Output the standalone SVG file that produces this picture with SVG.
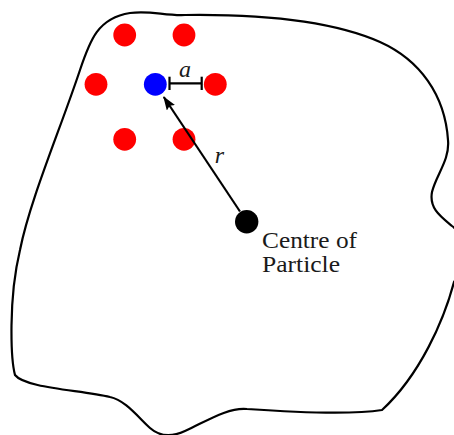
<svg xmlns="http://www.w3.org/2000/svg" width="454" height="435" viewBox="0 0 454 435">
  <style>
    .outline { fill: none; stroke: #000; stroke-width: 2.2; stroke-linejoin: round; }
    .red { fill: #ff0000; }
    .blue { fill: #0000ff; }
    .blk { fill: #000; }
    .conn { fill: none; stroke: #000; stroke-width: 2.2; }
    .lbl { font-family: "Liberation Serif", "Times New Roman", serif; font-size: 23.4px; fill: #1a1a1a; }
    .math { font-family: "Liberation Serif", "Times New Roman", serif; font-size: 24px; font-style: italic; fill: #1a1a1a; }
  </style>
  <defs>
    <marker id="arrow" markerUnits="userSpaceOnUse" viewBox="0 0 14 10" refX="13" refY="5" markerWidth="14" markerHeight="10" orient="auto">
      <path d="M0,0 L14,5 L0,10 L2.5,5 z" fill="#000"/>
    </marker>
  </defs>
  <rect width="454" height="435" fill="#fff"/>
  <g id="particle-outline">
    <path class="outline" d="M80,70 C90,40 98,18 130,13 C150,10 165,16 185,15 C260,14 330,20 380,42 C420,60 445,95 448,140 C450,160 436,175 432,192 C429,208 440,216 452,226 C470,240 468,262 454,282 C444,320 420,375 382,410 C350,415 290,412 247,409 C228,407 205,422 185,431 C172,437 160,437 150,428 C138,417 125,400 110,397 C80,390 25,388 15,375 C11,360 8,300 20,250 C30,200 60,130 80,70 Z"/>
  </g>
  <g id="neighbours">
    <circle class="red" cx="124.7" cy="35" r="11.4"/>
    <circle class="red" cx="184" cy="35" r="11.4"/>
    <circle class="red" cx="96" cy="84.3" r="11.4"/>
    <circle class="red" cx="215.3" cy="84.3" r="11.4"/>
    <circle class="red" cx="124.7" cy="139.3" r="11.4"/>
    <circle class="red" cx="184" cy="139.3" r="11.4"/>
  </g>
  <g id="atom">
    <circle class="blue" cx="155.3" cy="84.3" r="11.4"/>
  </g>
  <g id="centre">
    <circle class="blk" cx="246.7" cy="221.7" r="11.7"/>
    <text class="lbl" x="262" y="248" textLength="95" lengthAdjust="spacingAndGlyphs">Centre of</text>
    <text class="lbl" x="262" y="271.5" textLength="78" lengthAdjust="spacingAndGlyphs">Particle</text>
  </g>
  <g id="connectors">
    <line class="conn" x1="240" y1="211.5" x2="163.8" y2="97" marker-end="url(#arrow)"/>
    <line class="conn" x1="169.5" y1="83.3" x2="201.7" y2="83.3"/>
    <line class="conn" x1="169.5" y1="76.7" x2="169.5" y2="90"/>
    <line class="conn" x1="201.7" y1="76.7" x2="201.7" y2="90"/>
    <text class="math" x="185" y="76.5" text-anchor="middle">a</text>
    <text class="math" x="219.5" y="163" text-anchor="middle">r</text>
  </g>
</svg>
